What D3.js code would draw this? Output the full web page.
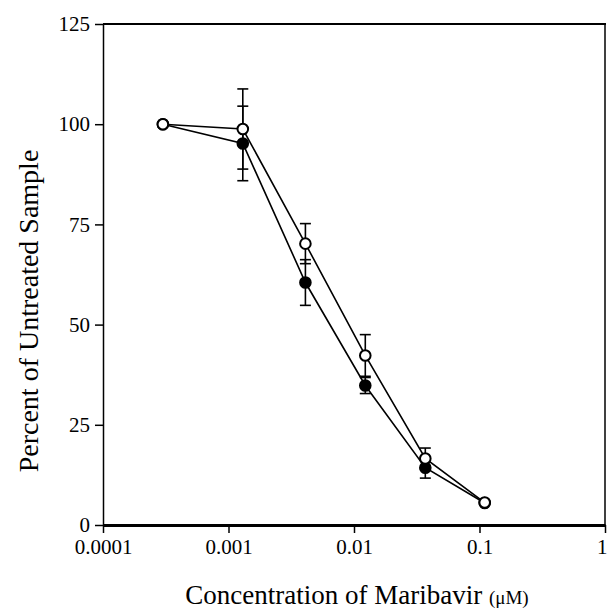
<!DOCTYPE html>
<html>
<head>
<meta charset="utf-8">
<script src="https://cdn.jsdelivr.net/npm/d3@7"></script>
<style>
  html, body { margin: 0; padding: 0; background: #fff; }
  svg { display: block; }
  text { font-family: "Liberation Serif", "Times New Roman", serif; fill: #000; }
</style>
</head>
<body>
<svg id="chart" width="607" height="611"></svg>
<script>
// ---- data ----
const concentrations = [0.0003, 0.0013, 0.0041, 0.0123, 0.037, 0.11];
const filledValues   = [100, 95.2, 60.5, 34.8, 14.3, 5.5];
const filledErrors   = [0, 9.3, 5.7, 2.0, 2.6, 0];
const openValues     = [100, 98.8, 70.2, 42.3, 16.6, 5.6];
const openErrors     = [0, 10.0, 5.0, 5.2, 2.6, 0];
const xTickValues = [0.0001, 0.001, 0.01, 0.1, 1];
const xTickLabels = ["0.0001", "0.001", "0.01", "0.1", "1"];
const yTickValues = [0, 25, 50, 75, 100, 125];
const xTitle = "Concentration of Maribavir ";
const xTitleUnit = "(\u03BCM)";
const yTitle = "Percent of Untreated Sample";

// ---- layout ----
const plotL = 103, plotR = 605, plotT = 24, plotB = 525;
const svg = d3.select("#chart");

const x = d3.scaleLog().domain([1e-4, 1]).range([plotL, plotR]);
const y = d3.scaleLinear().domain([0, 125]).range([plotB, plotT]);

// frame (top and right)
svg.append("line").attr("x1", plotL).attr("x2", plotR + 1).attr("y1", plotT).attr("y2", plotT)
  .attr("stroke", "#000").attr("stroke-width", 2);
svg.append("line").attr("x1", plotR).attr("x2", plotR).attr("y1", plotT).attr("y2", plotB)
  .attr("stroke", "#000").attr("stroke-width", 1.5);

// y axis
const yAxis = d3.axisLeft(y).tickValues(yTickValues).tickSize(8).tickSizeOuter(0).tickPadding(5);
const gy = svg.append("g").attr("transform", `translate(${plotL},0)`).call(yAxis);
gy.select(".domain").attr("stroke", "#000").attr("stroke-width", 1.5);
gy.selectAll(".tick line").attr("stroke", "#000").attr("stroke-width", 1.5);
gy.selectAll(".tick text").attr("font-size", 21).attr("font-family", "Liberation Serif");

// x axis
const xAxis = d3.axisBottom(x).tickValues(xTickValues).tickSize(8).tickSizeOuter(0).tickPadding(6)
  .tickFormat((d, i) => xTickLabels[i]);
const gx = svg.append("g").attr("transform", `translate(0,${plotB})`).call(xAxis);
gx.select(".domain").attr("stroke", "#000").attr("stroke-width", 3);
gx.selectAll(".tick line").attr("stroke", "#000").attr("stroke-width", 1.5);
gx.selectAll(".tick text").attr("font-size", 21).attr("font-family", "Liberation Serif")
  .attr("text-anchor", (d, i) => i === xTickValues.length - 1 ? "end" : "middle")
  .attr("dx", (d, i) => i === xTickValues.length - 1 ? 2 : 0);

// titles
const xt = svg.append("text").attr("x", 357).attr("y", 604).attr("text-anchor", "middle")
  .attr("font-size", 27);
xt.append("tspan").text(xTitle);
xt.append("tspan").attr("font-size", 19).text(xTitleUnit);

svg.append("text")
  .attr("transform", `translate(38,311) rotate(-90)`)
  .attr("text-anchor", "middle").attr("font-size", 28).text(yTitle);

// series
const series = [
  { values: filledValues, errors: filledErrors, fill: "#000" },
  { values: openValues, errors: openErrors, fill: "#fff" }
];
const line = d3.line().x(d => x(d.c)).y(d => y(d.v));

series.forEach(s => {
  const pts = concentrations.map((c, i) => ({ c, v: s.values[i], e: s.errors[i] }));
  svg.append("path").datum(pts).attr("d", line)
    .attr("fill", "none").attr("stroke", "#000").attr("stroke-width", 1.6);
});

const capHalf = 5.5;
series.forEach(s => {
  const pts = concentrations.map((c, i) => ({ c, v: s.values[i], e: s.errors[i] })).filter(d => d.e > 0);
  const g = svg.append("g").attr("stroke", "#000").attr("stroke-width", 1.6);
  g.selectAll("line.v").data(pts).join("line").attr("class", "v")
    .attr("x1", d => x(d.c)).attr("x2", d => x(d.c))
    .attr("y1", d => y(d.v + d.e)).attr("y2", d => y(d.v - d.e));
  g.selectAll("line.t").data(pts).join("line").attr("class", "t")
    .attr("x1", d => x(d.c) - capHalf).attr("x2", d => x(d.c) + capHalf)
    .attr("y1", d => y(d.v + d.e)).attr("y2", d => y(d.v + d.e));
  g.selectAll("line.b").data(pts).join("line").attr("class", "b")
    .attr("x1", d => x(d.c) - capHalf).attr("x2", d => x(d.c) + capHalf)
    .attr("y1", d => y(d.v - d.e)).attr("y2", d => y(d.v - d.e));
});

series.forEach(s => {
  const pts = concentrations.map((c, i) => ({ c, v: s.values[i] }));
  svg.append("g").selectAll("circle").data(pts).join("circle")
    .attr("cx", d => x(d.c)).attr("cy", d => y(d.v)).attr("r", 5.3)
    .attr("fill", s.fill).attr("stroke", "#000").attr("stroke-width", 2);
});
</script>
</body>
</html>
